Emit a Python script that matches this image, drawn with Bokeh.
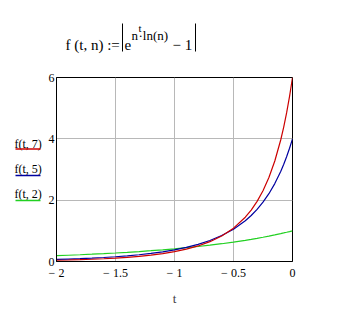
from bokeh.plotting import figure
from bokeh.layouts import column, row
from bokeh.models import Range1d, FixedTicker, CustomJSTickFormatter
from bokeh.core.properties import value
from bokeh.embed import file_html
from bokeh.resources import INLINE

t_vals = [-2.0, -1.9, -1.8, -1.7, -1.6, -1.5, -1.4, -1.3, -1.2, -1.1, -1.0,
          -0.9, -0.8, -0.7, -0.6, -0.5, -0.4, -0.35, -0.3, -0.25, -0.2,
          -0.15, -0.1, -0.075, -0.05, -0.025, 0.0]
f7 = [0.0405, 0.0494, 0.0604, 0.0738, 0.0903, 0.1108, 0.1361, 0.1677, 0.2073,
      0.2571, 0.3205, 0.4017, 0.5072, 0.6460, 0.8321, 1.0865, 1.4436, 1.6772,
      1.9607, 2.3079, 2.7381, 3.2772, 3.9620, 4.3745, 4.8445, 5.3822, 6.0]
f5 = [0.0665, 0.0786, 0.0929, 0.1100, 0.1304, 0.1548, 0.1842, 0.2197, 0.2628,
      0.3153, 0.3797, 0.4595, 0.5591, 0.6848, 0.8455, 1.0539, 1.3290, 1.5000,
      1.6995, 1.9338, 2.2107, 2.5404, 2.9361, 3.1638, 3.4150, 3.6925, 4.0]
f2 = [0.1892, 0.2041, 0.2202, 0.2378, 0.2569, 0.2777, 0.3004, 0.3251, 0.3522,
      0.3818, 0.4142, 0.4498, 0.4890, 0.5322, 0.5798, 0.6325, 0.6910, 0.7226,
      0.7559, 0.7912, 0.8284, 0.8677, 0.9093, 0.9310, 0.9533, 0.9763, 1.0]

series_names = ["f(t, 7)", "f(t, 5)", "f(t, 2)"]
series_colors = ["#cc0000", "#0000a0", "#22d022"]
x_ticks = [-2, -1.5, -1, -0.5, 0]
y_ticks = [0, 2, 4, 6]

W, H = 340, 312
TOP_H = 69            # height of the formula strip
LW = 45               # width of the legend strip
FL, FR, FT, FB = 55, 292, 77, 261   # plot frame edges in page pixels
serif = "Liberation Serif"

def bare(w, h, x0, x1, y0, y1, bt=0, bb=0):
    f = figure(width=w, height=h, output_backend="svg", toolbar_location=None,
               x_range=Range1d(x0, x1), y_range=Range1d(y0, y1),
               x_axis_location=None, y_axis_location=None,
               min_border=0, min_border_left=0, min_border_right=0,
               min_border_top=bt, min_border_bottom=bb)
    f.outline_line_color = None
    f.background_fill_color = "white"
    f.border_fill_color = "white"
    f.xgrid.visible = False
    f.ygrid.visible = False
    return f

def tx(f, x, y, s, size):
    f.text(x=[x], y=[y], text=[s], text_font=value(serif), text_font_size=value(size),
           text_color="black", text_baseline="alphabetic", text_align="left")

# ---- formula strip (coordinates = page pixels) ----
top = bare(W, TOP_H, 0, W, TOP_H, 0)
tx(top, 65, 44, "f (t, n) :=", "15px")
tx(top, 124, 44, "e", "15px")
tx(top, 131, 35, "n", "13px")
tx(top, 138, 27, "t", "11px")
tx(top, 138, 35, "\u00b7ln(n)", "13px")
tx(top, 172, 44, "\u2212 1", "15px")
top.segment(x0=[122, 195], y0=[23, 23], x1=[122, 195], y1=[51, 51],
            line_color="black", line_width=1)

# ---- legend strip: same vertical borders as the plot, frame coords = page pixels ----
leg = bare(LW, H - TOP_H, 0, LW, FB, FT, bt=FT - TOP_H, bb=H - FB)
leg_text_y = [143, 168, 193]
leg_line_y = [148.5, 175, 200]
for name, col, ty, ly in zip(series_names, series_colors, leg_text_y, leg_line_y):
    tx(leg, 14, ty, name, "12px")
    leg.segment(x0=[15], y0=[ly], x1=[40], y1=[ly], line_color=col, line_width=1.3)

# ---- main plot ----
p = figure(width=W - LW, height=H - TOP_H, output_backend="svg", toolbar_location=None,
           x_range=Range1d(-2, 0), y_range=Range1d(0, 6),
           min_border_left=FL - LW, min_border_right=W - FR,
           min_border_top=FT - TOP_H, min_border_bottom=H - FB)
p.background_fill_color = "white"
p.border_fill_color = "white"
p.outline_line_color = "black"
p.outline_line_width = 1

for ax in (p.xaxis[0], p.yaxis[0]):
    ax.axis_line_color = "black"
    ax.major_tick_line_color = None
    ax.minor_tick_line_color = None
    ax.major_tick_out = 0
    ax.major_tick_in = 0
    ax.major_label_text_font = serif
    ax.major_label_text_font_size = "12px"
    ax.major_label_text_color = "black"

p.xaxis.ticker = FixedTicker(ticks=x_ticks)
p.yaxis.ticker = FixedTicker(ticks=y_ticks)
p.xaxis.formatter = CustomJSTickFormatter(
    code="return tick < 0 ? '\u2212 ' + Math.abs(tick) : String(tick);")
p.xaxis.major_label_standoff = 4
p.yaxis.major_label_standoff = 2
p.xaxis.axis_label = "t"
p.xaxis.axis_label_text_font = serif
p.xaxis.axis_label_text_font_style = "normal"
p.xaxis.axis_label_text_font_size = "13px"
p.xaxis.axis_label_standoff = 8

p.xgrid.ticker = FixedTicker(ticks=x_ticks[1:-1])
p.ygrid.ticker = FixedTicker(ticks=y_ticks[1:-1])
p.xgrid.grid_line_color = "#b8b8b8"
p.ygrid.grid_line_color = "#b8b8b8"

p.line(t_vals, f2, line_color=series_colors[2], line_width=1.2)
p.line(t_vals, f5, line_color=series_colors[1], line_width=1.2)
p.line(t_vals, f7, line_color=series_colors[0], line_width=1.2)

layout = column(top, row(leg, p, spacing=0), spacing=0)
open("out.html", "w").write(file_html(layout, INLINE))
